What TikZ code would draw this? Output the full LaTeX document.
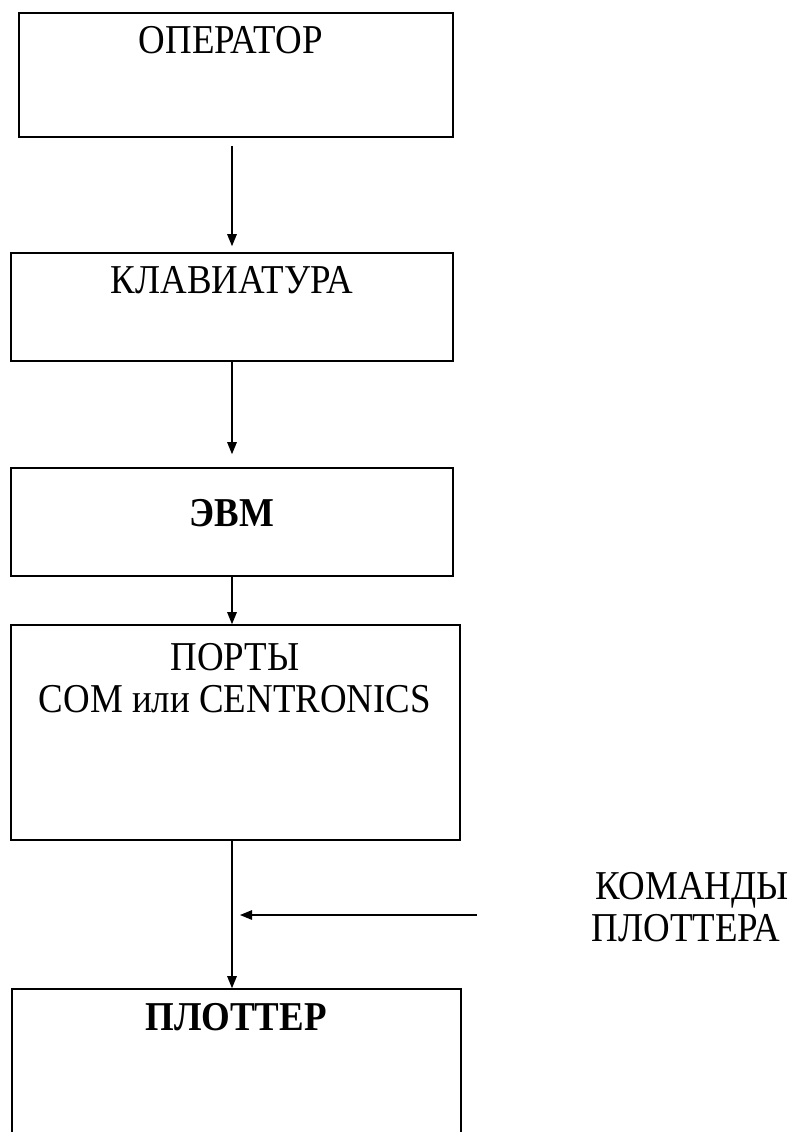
\documentclass[tikz,border=0pt]{standalone}
\usepackage{fontspec}
\setmainfont[FakeStretch=0.9]{Liberation Serif}
\usetikzlibrary{arrows.meta}
\begin{document}
\begin{tikzpicture}[x=1pt, y=-1pt,
  blockbox/.style={draw, line width=1.6pt, rectangle, inner sep=0pt},
  caption/.style={inner sep=0pt, align=center, font=\fontsize{41}{42}\selectfont},
  flow/.style={line width=1.3pt, -{Triangle[length=12pt, width=9.5pt]}}]
  \useasboundingbox (0,0) rectangle (795,1132);
  \clip (0,0) rectangle (795,1132);

  % blocks
  \node[blockbox, minimum width=434pt, minimum height=124pt] (b1) at (236,75) {};
  \node[blockbox, minimum width=442pt, minimum height=108pt] (b2) at (232,307) {};
  \node[blockbox, minimum width=442pt, minimum height=108pt] (b3) at (232,522) {};
  \node[blockbox, minimum width=449pt, minimum height=215pt] (b4) at (235.5,732.5) {};
  \node[blockbox, minimum width=449pt, minimum height=200pt] (b5) at (236.5,1089) {};

  % block titles
  \node[caption] (t1) at (231,40) {ОПЕРАТОР};
  \node[caption] (t2) at (232,280) {КЛАВИАТУРА};
  \node[caption, font=\fontsize{41}{42}\selectfont\bfseries] (t3) at (232,513) {ЭВМ};
  \node[caption] (t4) at (235,678) {ПОРТЫ\\COM или CENTRONICS};
  \node[caption, font=\fontsize{41}{42}\selectfont\bfseries] (t5) at (236,1017) {ПЛОТТЕР};

  % side input
  \node[caption] (cmd) at (686,907) {\hspace*{12pt}КОМАНДЫ\\ПЛОТТЕРА};
  \coordinate (cmdtail) at (477,915);
  \coordinate (cmdhead) at (240,915);

  % connectors
  \draw[flow, shorten <=8pt, shorten >=6pt] (b1.south -| b2.north) -- (b2.north);
  \draw[flow, shorten >=13pt] (b2.south) -- (b3.north);
  \draw[flow] (b3.south) -- (b3.south |- b4.north);
  \draw[flow] (b4.south -| b3.south) -- (b5.north -| b3.south);
  \draw[flow] (cmdtail) -- (cmdhead);
\end{tikzpicture}
\end{document}
